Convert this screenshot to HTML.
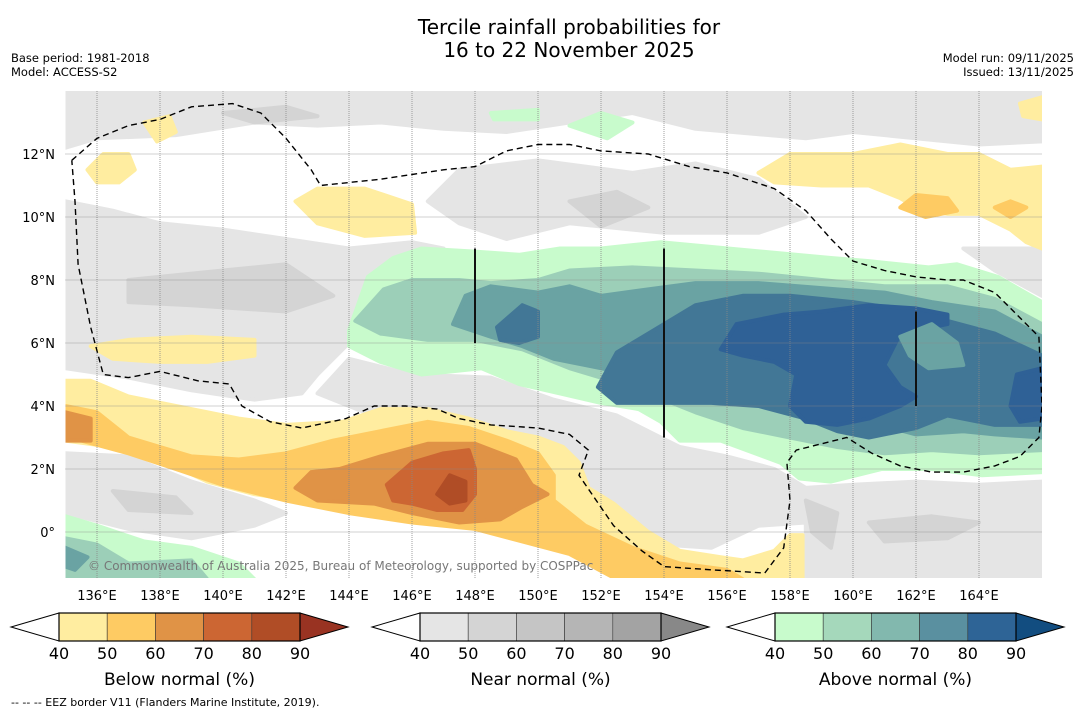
<!DOCTYPE html>
<html><head><meta charset="utf-8">
<style>
body{margin:0;background:#fff;font-family:"Liberation Sans",sans-serif;}
svg{display:block}
text{font-family:"DejaVu Sans","Liberation Sans",sans-serif;}
</style></head>
<body>
<svg id="chart" width="1085" height="713" viewBox="0 0 1085 713">
<rect width="1085" height="713" fill="#fff"/>
<text x="569" y="34" text-anchor="middle" font-size="20">Tercile rainfall probabilities for</text>
<text x="569" y="57" text-anchor="middle" font-size="20">16 to 22 November 2025</text>
<text x="11" y="62" font-size="11.5">Base period: 1981-2018</text>
<text x="11" y="76" font-size="11.5">Model: ACCESS-S2</text>
<text x="1074" y="62" font-size="11.5" text-anchor="end">Model run: 09/11/2025</text>
<text x="1074" y="76" font-size="11.5" text-anchor="end">Issued: 13/11/2025</text>
<defs><clipPath id="mapclip"><rect x="65.5" y="91" width="976.5" height="487"/></clipPath></defs>
<g id="map" clip-path="url(#mapclip)"><rect x="65.5" y="91" width="976.5" height="487" fill="#fff"/></g>
<g id="axes"></g>
<g id="bars"></g>
<text x="11" y="706" font-size="11">--  --  -- EEZ border V11 (Flanders Marine Institute, 2019).</text>
</svg>
<script>
const lonTicks=[136,138,140,142,144,146,148,150,152,154,156,158,160,162,164];
const latTicks=[0,2,4,6,8,10,12];
const cbTicks=[40,50,60,70,80,90];
const belowColors=["#ffeda0","#fecb63","#e09346","#cc6633","#b04d26","#993322"];
const nearColors=["#e5e5e5","#d4d4d4","#c5c5c5","#b5b5b5","#a3a3a3","#888888"];
const aboveColors=["#c8fbcc","#a5d8bb","#82b8ae","#5a90a0","#2e6496","#124d80"];
const cbTitles=["Below normal (%)","Near normal (%)","Above normal (%)"];

// probability contour polygons [lon,lat]
const greyLight=[
[[135,14],[166,14],[166,12.4],[164,12.3],[160,12.7],[158.5,12.5],[155,12.8],[153,13.3],[151,13.0],[149,12.7],[147,12.8],[145,13.0],[143,12.9],[141,13.0],[138.5,12.6],[136,12.5],[135,12.2]],
[[135,10.5],[136.5,10.2],[138,9.8],[140,9.6],[142,9.3],[144,9.0],[146,9.2],[147,9.0],[146.3,7.9],[145,7.0],[144,6.0],[143,5.0],[142.5,4.4],[141,4.2],[139,4.5],[137,4.9],[135,5.2]],
[[147.5,11.5],[150,11.8],[153,11.4],[155,11.7],[157,11.2],[158.5,10.0],[157,9.5],[154,9.5],[151,9.8],[149,9.3],[147.5,9.8],[146.5,10.5]],
[[163.5,9],[164.5,8.3],[166,7.5],[166,9.0]],
[[144,5.5],[146,5.0],[148.5,4.9],[150.5,4.2],[152.5,3.7],[154.5,2.7],[156,2.4],[157.5,2.0],[158.5,1.4],[160,1.5],[162,1.6],[164,1.5],[166,1.6],[166,-1.5],[158.5,-1.5],[158.5,0.3],[157,0.2],[155.5,-0.5],[154,-0.4],[152.5,0.5],[151.5,1.6],[150.8,2.6],[149,3.1],[147.5,3.7],[146,3.8],[144.5,3.8],[143,4.4]],
[[135,2.5],[137,2.4],[139,1.6],[141,1.0],[142,0.6],[141,0.2],[139,-0.2],[137,0.1],[135,0.6]]
];
const greyDark=[
[[137,8.0],[140,8.3],[142,8.5],[143.5,7.5],[142,7.0],[139,7.2],[137,7.3]],
[[151,10.5],[152.5,10.8],[153.5,10.3],[152,9.7]],
[[158.5,1.0],[159.5,0.6],[159.3,-0.5],[158.7,0.0]],
[[160.5,0.3],[162.5,0.5],[164,0.3],[163,-0.2],[161,-0.3]],
[[140,13.3],[142,13.5],[143,13.2],[141,13.0]],
[[136.5,1.3],[138.5,1.1],[139,0.6],[137,0.7]]
];
const yellow40=[
[[135,4.8],[135.8,4.8],[137,4.3],[138.5,4.0],[140.5,3.6],[142,3.4],[143.8,3.5],[145,3.9],[146.5,3.9],[147.8,3.6],[149,3.2],[150,3.0],[150.8,2.7],[151.3,2.2],[151.6,1.4],[152.4,0.9],[153.5,0.0],[154.5,-0.6],[155.8,-0.8],[156.5,-0.9],[157.5,-0.6],[158,-0.1],[158.4,-0.1],[158.4,-1.5],[153,-1.5],[151.5,-0.6],[150,-0.2],[148,0.3],[146,0.6],[143,0.9],[141,1.2],[139.5,1.6],[138,2.3],[136.5,2.7],[135,2.9]],
[[157,11.4],[158,12.0],[160,12.0],[161.5,12.3],[163,12.0],[164,12.0],[165,11.5],[166,11.6],[166,9.0],[165.5,9.2],[165,9.6],[164,10.1],[163,10.1],[162,10.3],[161.5,10.6],[160.5,11.0],[159,11.0],[157.5,11.1]],
[[135.7,11.5],[136.2,12.0],[137.0,12.0],[137.2,11.5],[136.7,11.1],[136,11.1]],
[[137.5,13.0],[138.3,13.2],[138.5,12.7],[137.9,12.4]],
[[142.3,10.5],[143,10.9],[144.5,10.9],[146,10.4],[146.1,9.5],[144.5,9.4],[143,9.8]],
[[165.3,13.6],[166,13.8],[166,13.1],[165.4,13.2]],
[[135.8,5.9],[137,6.1],[139,6.2],[141,6.1],[141,5.6],[139.5,5.4],[138,5.4],[136.5,5.5]]
];
const orange50=[
[[135,4.0],[136,3.8],[137,3.0],[138,2.7],[139,2.4],[140.5,2.3],[142,2.5],[143.5,2.9],[145,3.2],[146.5,3.5],[147.8,3.3],[149,2.9],[150,2.5],[150.5,1.8],[150.5,1.0],[151.5,0.2],[153,-0.5],[154.5,-1.0],[156,-1.2],[156.5,-1.5],[152.5,-1.5],[151,-0.7],[149.5,-0.3],[148,0.1],[146,0.3],[144,0.6],[142,1.0],[140,1.5],[138.5,2.0],[137,2.5],[135.5,2.9],[135,3.0]],
[[161.5,10.3],[162,10.7],[163,10.6],[163.3,10.2],[162.3,10.0]],
[[164.5,10.3],[165,10.5],[165.5,10.3],[165,10.0]]
];
const orange60=[
[[143.7,2.0],[145,2.4],[146.5,2.8],[148,2.8],[149.3,2.3],[149.8,1.5],[150.3,1.2],[149.5,0.8],[148.8,0.4],[147.5,0.3],[146,0.6],[144.8,0.9],[143,1.0],[142.3,1.4],[142.8,1.9]],
[[135,3.8],[135.8,3.6],[135.8,2.9],[135,2.9]]
];
const orange70=[[[145.2,1.5],[146,2.2],[147,2.5],[147.8,2.6],[148,2.0],[148,1.2],[147.6,0.7],[146.8,0.7],[146,0.9],[145.4,1.0]]];
const orange80=[[[146.8,1.2],[147.2,1.8],[147.7,1.6],[147.7,1.0],[147.2,0.9]]];
const green40=[
[[144,6.4],[144.6,8.1],[145.4,8.7],[146.3,9.0],[148,8.9],[149.4,8.8],[150.7,9.0],[152,9.0],[153.9,9.2],[157.1,8.9],[159.3,8.7],[160.5,8.6],[162.4,8.4],[163.3,8.5],[164.6,8.1],[166,7.3],[166,1.9],[164.1,1.8],[162.5,2.0],[160.9,2.0],[159.3,1.6],[158.3,1.7],[157.7,2.2],[155.8,2.9],[154.5,2.9],[153.9,3.5],[153.2,3.9],[152,4.1],[150.7,4.4],[149.4,4.7],[148.2,5.2],[146.3,5.0],[145,5.4],[144,5.9]],
[[135,0.5],[136,0.2],[137.5,-0.3],[139,-0.5],[140.5,-1.0],[141,-1.5],[135,-1.5]],
[[148.5,13.3],[150,13.4],[150,13.1],[148.6,13.1]],
[[151,12.9],[152,13.3],[153,13.0],[152.2,12.5]]
];
const green50=[
[[145.1,7.7],[146,8.0],[147.5,8.0],[148.5,7.9],[150,8.0],[151,8.3],[153,8.4],[155,8.3],[157,8.2],[159,8.0],[161,7.8],[163,7.8],[164.5,7.4],[166,6.6],[166,2.6],[164,2.5],[162.5,2.6],[161,2.5],[159.5,2.7],[158,3.0],[156.5,3.3],[155,3.8],[153,4.6],[151,5.2],[149.5,5.8],[148,6.1],[146.5,6.1],[145,6.3],[144.2,6.7]],
[[135,-0.2],[136,-0.4],[137,-1.0],[139,-0.9],[139.5,-1.5],[135,-1.5]]
];
const green60=[
[[147.7,7.5],[148.5,7.8],[150,7.6],[151,7.8],[152,7.5],[153.5,7.7],[155,7.9],[157,7.9],[159.5,7.7],[161,7.6],[162.5,7.3],[164.5,7.0],[166,6.2],[166,3.0],[164.5,3.1],[163.5,3.2],[162,3.1],[160.5,3.5],[159,3.8],[157.5,3.9],[156,4.3],[154.5,4.6],[153,5.0],[151.5,5.3],[150.5,5.5],[149.5,5.9],[148.5,6.2],[147.3,6.6]],
[[135,-0.5],[135.7,-0.8],[135.3,-1.2],[135,-1.1]]
];
const green70=[
[[151.9,4.6],[152.5,5.7],[153.5,6.3],[155,7.2],[156.5,7.5],[158,7.5],[160,7.3],[162,7.0],[163,6.7],[164.5,6.3],[166,5.6],[166,3.4],[164.5,3.4],[163,3.7],[162,3.3],[160.5,3.0],[159.5,3.2],[158.5,3.6],[157,4.0],[155.5,4.1],[154,4.1],[152.5,4.1]],
[[148.7,6.5],[149.5,7.2],[150,7.0],[150,6.2],[149.4,6.0],[148.8,6.1]]
];
const green80=[
[[155.8,5.8],[156.3,6.6],[157.8,6.9],[159,7.0],[160.5,7.2],[162,7.1],[163,6.9],[163,6.6],[161.5,6.3],[161,5.3],[161.5,4.6],[162,4.3],[161.5,4.0],[160.5,3.6],[159.5,3.4],[158.5,3.5],[158,4.0],[158.2,5.0],[157.5,5.4],[156.5,5.6]],
[[165,4.0],[165.2,5.0],[166,5.2],[166,3.6],[165.3,3.5]]
];
const green60Hole=[[[161.5,6.2],[162.5,6.6],[163.3,6.0],[163.5,5.3],[162.4,5.2],[161.8,5.6]]];
const eezBorder=[[135.2,11.8],[136,12.5],[137,12.9],[138,13.1],[139,13.5],[140.3,13.6],[141.2,13.3],[142,12.5],[142.8,11.5],[143.1,11.0],[145,11.2],[147,11.5],[148,11.6],[149,12.1],[150,12.3],[151,12.3],[152,12.1],[153.5,12.0],[154.8,11.6],[156,11.4],[157.5,10.9],[158.5,10.2],[159.3,9.3],[160,8.6],[161,8.3],[162,8.1],[163,8.0],[163.5,8.0],[164.5,7.6],[165.5,6.6],[165.9,6.2],[166,4.0],[165.9,3.0],[165.3,2.4],[164.5,2.1],[163.5,1.9],[162.5,1.9],[161.5,2.1],[160.6,2.5],[159.8,3.0],[159,2.8],[158.2,2.6],[157.9,2.2],[158,1.0],[157.8,-0.5],[157.2,-1.3],[155.5,-1.2],[154,-1.1],[153.3,-0.6],[152.4,0.2],[151.3,1.8],[151.6,2.6],[151,3.1],[150,3.3],[148.5,3.4],[147.5,3.6],[146.8,3.9],[145.8,4.0],[144.8,4.0],[143.9,3.6],[142.5,3.3],[141.5,3.5],[140.6,4.0],[140.2,4.7],[139.2,4.8],[138,5.1],[137,4.9],[136.2,5.0],[135.8,6.5],[135.4,8.5],[135.3,10.5],[135.2,11.8]];
const boundaryLines=[[148,6,9],[154,3,9],[162,4,7]];

const NS='http://www.w3.org/2000/svg';
const X=lon=>65.5+(lon-135)*31.5;
const Y=lat=>91+(14-lat)*31.5;
const map=document.getElementById('map');
const axes=document.getElementById('axes');
const bars=document.getElementById('bars');
function mk(tag,attrs,parent){const e=document.createElementNS(NS,tag);for(const k in attrs)e.setAttribute(k,attrs[k]);parent.appendChild(e);return e;}
function pts(poly){return poly.map(p=>X(p[0]).toFixed(1)+','+Y(p[1]).toFixed(1)).join(' ');}
function layer(polys,color,name){polys.forEach(poly=>{const e=mk('polygon',{points:pts(poly),fill:color,stroke:color,'stroke-width':4,'stroke-linejoin':'round'},map);

});}
layer(greyLight,nearColors[0],'near-normal-40-region');
layer(greyDark,nearColors[1],'near-normal-50-region');
layer(yellow40,belowColors[0],'below-normal-40-region');
layer(orange50,belowColors[1],'below-normal-50-region');
layer(orange60,belowColors[2],'below-normal-60-region');
layer(orange70,belowColors[3],'below-normal-70-region');
layer(orange80,belowColors[4],'below-normal-80-region');
layer(green40,'#c8fbcc','above-normal-40-region');
layer(green50,'#9ccfb8','above-normal-50-region');
layer(green60,'#6aa3a3','above-normal-60-region');
layer(green70,'#427796','above-normal-70-region');
layer(green80,'#2f6196','above-normal-80-region');
layer(green60Hole,'#6aa3a3','above-normal-60-patch');
// gridlines
lonTicks.forEach(l=>{const g=mk('line',{x1:X(l),x2:X(l),y1:91,y2:578,stroke:'#888','stroke-width':0.8,'stroke-dasharray':'1,1'},map);

});
latTicks.forEach(l=>{const g=mk('line',{x1:65.5,x2:1042,y1:Y(l),y2:Y(l),stroke:'#888','stroke-width':0.8,'stroke-dasharray':'1,1'},map);

});
boundaryLines.forEach(b=>{const g=mk('line',{x1:X(b[0]),x2:X(b[0]),y1:Y(b[2]),y2:Y(b[1]),stroke:'#111','stroke-width':2},map);

});
const ez=mk('polyline',{points:pts(eezBorder),fill:'none',stroke:'#000','stroke-width':1.4,'stroke-dasharray':'6,4'},map);


const cp=mk('text',{x:88,y:570,'font-size':12,fill:'#777'},map);cp.textContent='© Commonwealth of Australia 2025, Bureau of Meteorology, supported by COSPPac';


// tick labels
lonTicks.forEach(l=>{const t=mk('text',{x:X(l),y:600,'font-size':13,'text-anchor':'middle'},axes);t.textContent=l+'°E';

});
latTicks.forEach(l=>{const t=mk('text',{x:55,y:Y(l)+5,'font-size':13,'text-anchor':'end'},axes);t.textContent=l===0?'0°':l+'°N';

});
// colorbars
const cbLefts=[59,420,775];
[belowColors,nearColors,aboveColors].forEach((cols,i)=>{
 const x0=cbLefts[i],w=48.2,y0=613,h=28,x1=x0+w*5;
 const g=mk('g',{},bars);
 
 
 mk('polygon',{points:`${x0},${y0} ${x0-48},${y0+h/2} ${x0},${y0+h}`,fill:'#fff',stroke:'#000','stroke-width':1},g);
 for(let k=0;k<5;k++)mk('rect',{x:x0+k*w,y:y0,width:w,height:h,fill:cols[k],stroke:'#333','stroke-width':0.6},g);
 mk('polygon',{points:`${x1},${y0} ${x1+48},${y0+h/2} ${x1},${y0+h}`,fill:cols[5],stroke:'#000','stroke-width':1},g);
 mk('rect',{x:x0,y:y0,width:w*5,height:h,fill:'none',stroke:'#000','stroke-width':1.2},g);
 cbTicks.forEach((v,k)=>{const t=mk('text',{x:x0+k*w,y:659,'font-size':16,'text-anchor':'middle'},g);t.textContent=v;
 
 });
 const tt=mk('text',{x:x0+w*2.5,y:685,'font-size':17,'text-anchor':'middle'},g);tt.textContent=cbTitles[i];
 
 
});
</script>
</body></html>
